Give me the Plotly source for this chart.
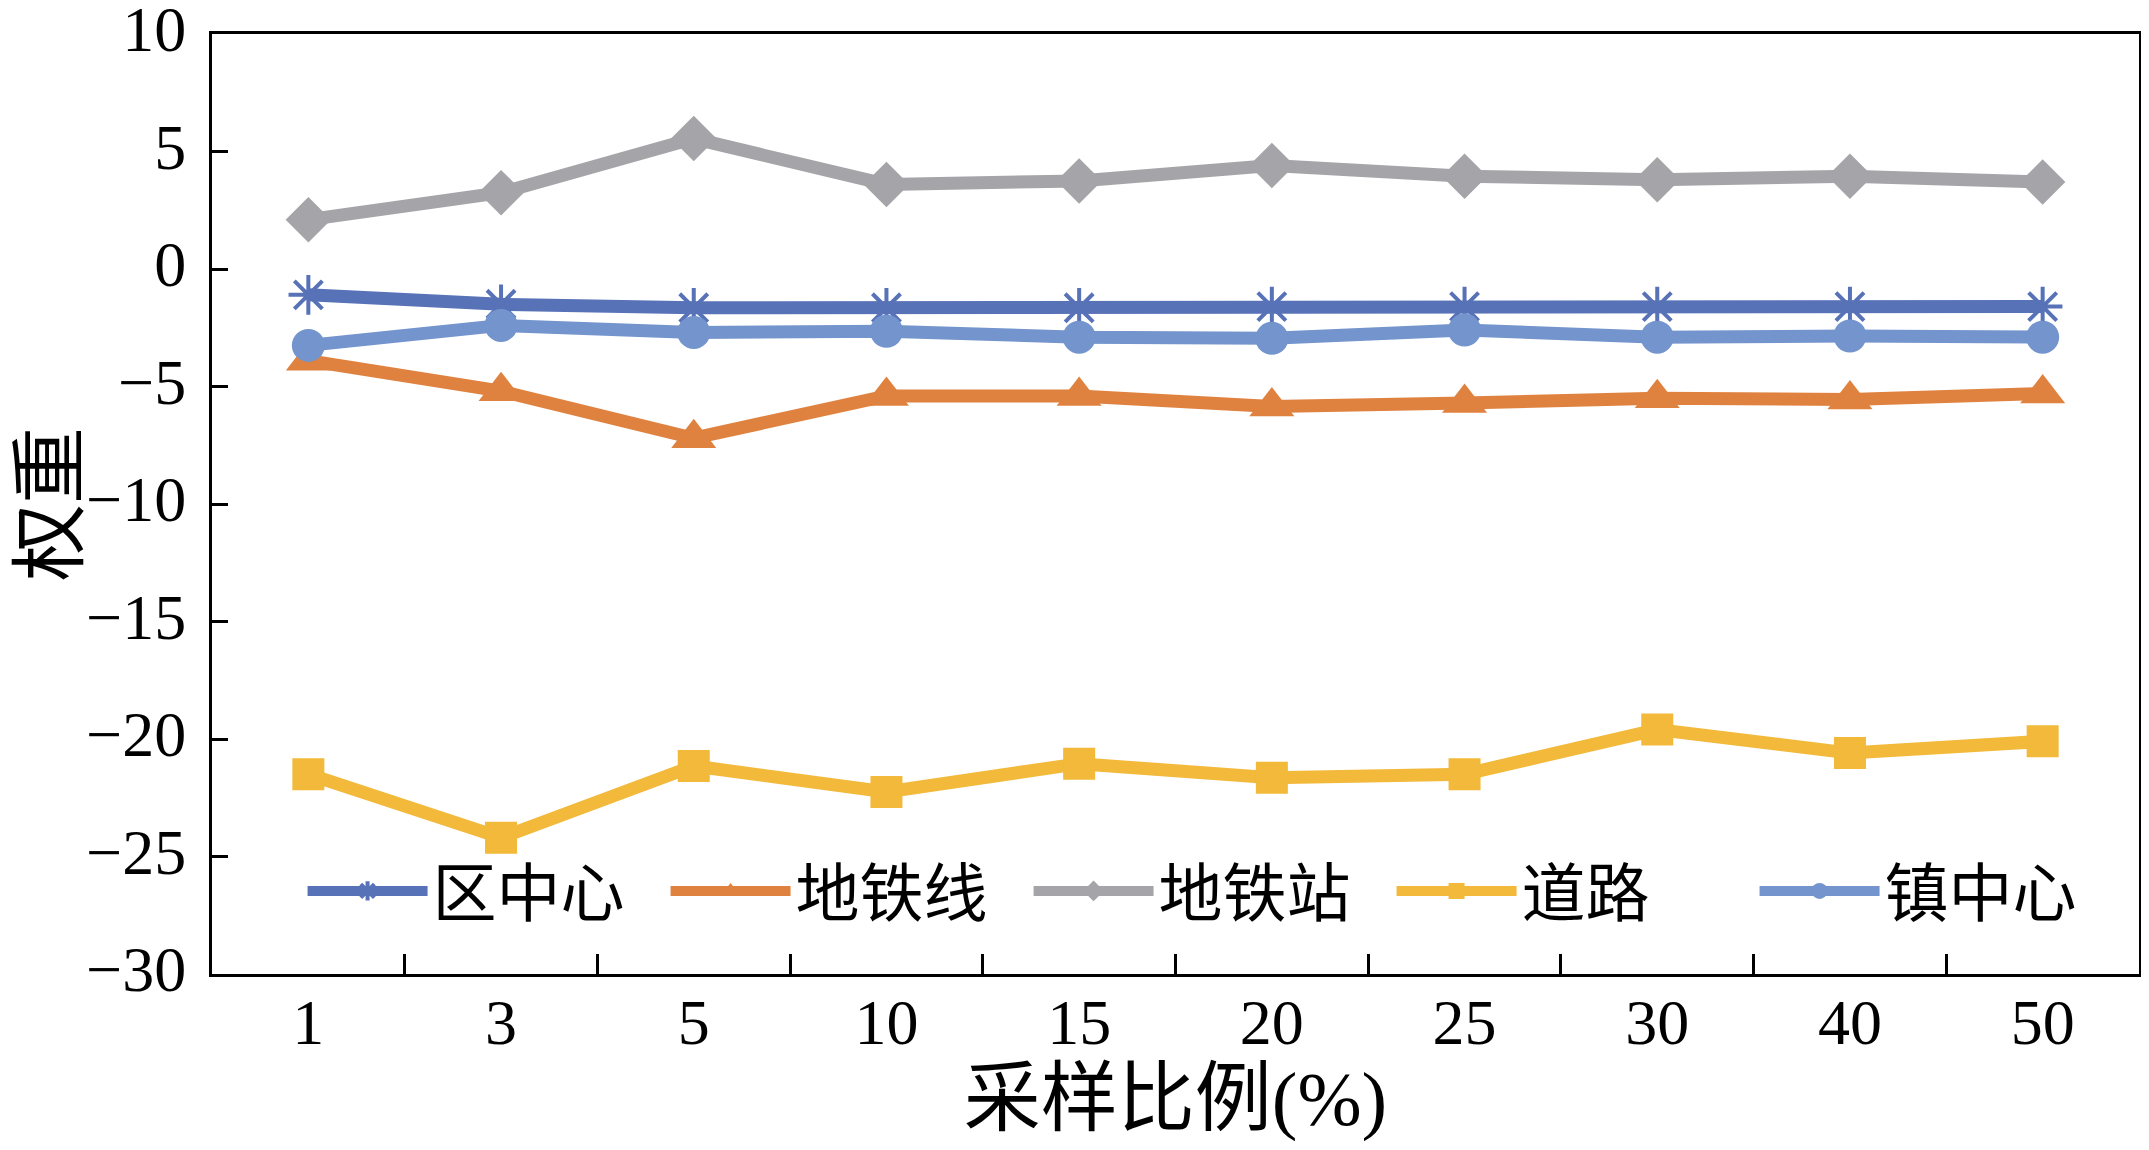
import plotly.graph_objects as go

# sampling ratio (%) on the x axis
ratios = ["1", "3", "5", "10", "15", "20", "25", "30", "40", "50"]

# weights
qu_zhongxin = [-1.1, -1.5, -1.65, -1.65, -1.65, -1.6, -1.6, -1.6, -1.6, -1.6]
ditie_xian = [-3.9, -5.2, -7.2, -5.4, -5.4, -5.85, -5.7, -5.5, -5.55, -5.3]
ditie_zhan = [2.1, 3.25, 5.55, 3.6, 3.75, 4.4, 3.95, 3.8, 3.95, 3.7]
daolu = [-21.5, -24.2, -21.15, -22.25, -21.05, -21.65, -21.5, -19.6, -20.6, -20.1]
zhen_zhongxin = [-3.25, -2.4, -2.7, -2.65, -2.9, -2.95, -2.6, -2.9, -2.85, -2.9]

y_ticks = [10, 5, 0, -5, -10, -15, -20, -25, -30]

FONT = "Liberation Serif, Noto Sans CJK SC, serif"

# name, values, colour, marker symbol, marker size
series = [
    ("区中心", qu_zhongxin, "#5872B8", "asterisk-open", 33),
    ("地铁线", ditie_xian, "#E0823F", "triangle-up", 39),
    ("地铁站", ditie_zhan, "#A5A4A8", "diamond", 35),
    ("道路", daolu, "#F2B93A", "square", 32),
    ("镇中心", zhen_zhongxin, "#7394CC", "circle", 33),
]

fig = go.Figure()
for name, vals, color, symbol, size in series:
    fig.add_trace(go.Scatter(
        x=ratios, y=vals, name=name, mode="lines+markers",
        line=dict(color=color, width=13),
        marker=dict(symbol=symbol, size=size, color=color,
                    line=dict(color=color, width=4 if "open" in symbol else 0)),
    ))

# the page body has an 8px margin, so the figure is a bit smaller than the window
fig.update_layout(
    width=2133, height=1134,
    margin=dict(l=204, r=2, t=26, b=168),
    paper_bgcolor="white", plot_bgcolor="white",
    font=dict(family=FONT, size=64, color="black"),
    showlegend=True,
    legend=dict(orientation="h", x=0.047, xanchor="left", y=0.088, yanchor="middle",
                bgcolor="rgba(0,0,0,0)", font=dict(size=64), itemwidth=120,
                entrywidth=228, traceorder="normal"),
)
fig.update_xaxes(
    type="category", range=[-0.5, 9.5], tickson="boundaries", automargin=False,
    ticks="inside", ticklen=20, tickwidth=3, tickcolor="black",
    showline=True, linecolor="black", linewidth=3, mirror=True,
    showgrid=False, zeroline=False, ticklabelstandoff=-10,
    title=dict(text="采样比例(%)", standoff=52),
    tickfont=dict(size=64),
)
fig.update_yaxes(
    range=[-30, 10], tickvals=y_ticks, automargin=False,
    ticks="inside", ticklen=16, tickwidth=3, tickcolor="black",
    showline=True, linecolor="black", linewidth=3, mirror=True,
    showgrid=False, zeroline=False, ticklabelstandoff=10,
    ticklabeloverflow="allow", ticklabelshift=-5,
    title=dict(text="权重", standoff=0),
    tickfont=dict(size=64),
)

fig.write_html("out.html")
